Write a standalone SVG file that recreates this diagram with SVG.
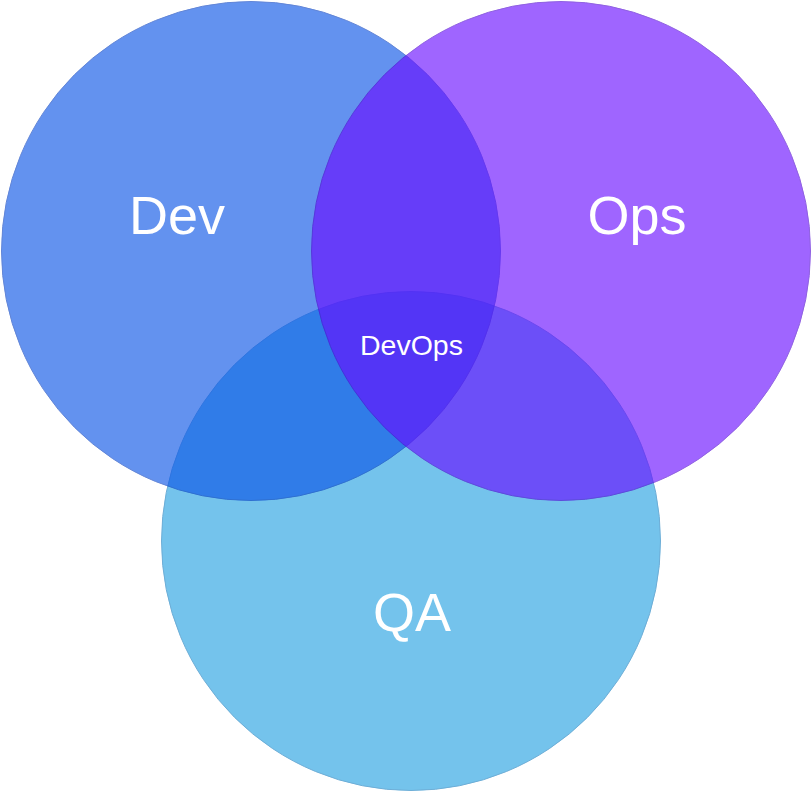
<svg xmlns="http://www.w3.org/2000/svg" width="811" height="791" viewBox="0 0 811 791">
<style>
.c{opacity:0.63;stroke-width:1}
.lbl{font-family:"Liberation Sans",Arial,Helvetica,sans-serif;fill:#ffffff;text-anchor:middle}
.big{font-size:54px}
.small{font-size:28.5px}
</style>
<rect width="811" height="791" fill="#ffffff"/>
<g id="qa">
<circle class="c" cx="411" cy="541" r="249.5" fill="#24a1e1" stroke="#1a7fc0"/>
</g>
<g id="dev">
<circle class="c" cx="251" cy="251" r="249.5" fill="#0a54e7" stroke="#0840c0"/>
</g>
<g id="ops">
<circle class="c" cx="561" cy="251" r="249.5" fill="#680cff" stroke="#5008d0"/>
</g>
<g id="connectors"></g>
<g id="labels">
<text class="lbl big" x="177" y="234">Dev</text>
<text class="lbl big" x="637" y="234">Ops</text>
<text class="lbl big" x="412" y="631">QA</text>
<text class="lbl small" x="411.5" y="355">DevOps</text>
</g>
</svg>
